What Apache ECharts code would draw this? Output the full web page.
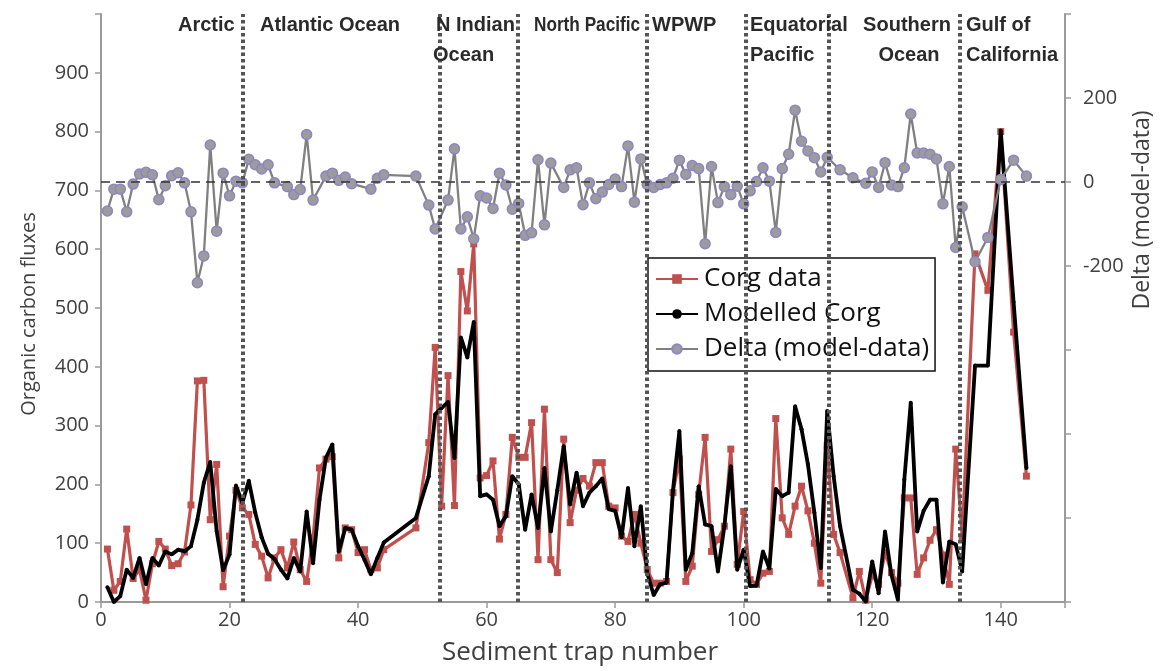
<!DOCTYPE html>
<html>
<head>
<meta charset="utf-8">
<script src="https://cdn.jsdelivr.net/npm/echarts@6/dist/echarts.min.js"></script>
<style>html,body{margin:0;background:#fff}#main{width:1162px;height:671px}</style>
</head>
<body>
<div id="main"></div>
<script>
// sediment trap numbers that carry a Corg value (data and model)
const trapNo = [
  1, 2, 3, 4, 5, 6, 7, 8, 9, 10, 11, 12, 13, 14, 15, 16, 17, 18, 19, 20,
  21, 22, 23, 24, 25, 26, 27, 28, 29, 30, 31, 32, 33, 34, 35, 36, 37, 38, 39, 40,
  41, 42, 43, 44, 49,
  51, 52, 53, 54, 55, 56, 57, 58, 59, 60, 61, 62, 63, 64, 65, 66, 67, 68, 69, 70,
  71, 72, 73, 74, 75, 76, 77, 78, 79, 80, 81, 82, 83, 84, 85, 86, 87, 88, 89, 90,
  91, 92, 93, 94, 95, 96, 97, 98, 99, 100, 101, 102, 103, 104, 105, 106, 107, 108, 109, 110,
  111, 112, 113, 114, 115, 117, 118, 119, 120, 121, 122, 123, 124, 125, 126, 127, 128, 129, 130,
  131, 132, 133, 134, 136, 138, 140, 142, 144
];
const corgData = [
  90, 20, 35, 124, 40, 55, 3, 65, 103, 90, 62, 65, 85, 165, 376, 377, 140, 234, 26, 112,
  190, 160, 149, 98, 78, 41, 75, 89, 58, 102, 55, 35, 109, 228, 243, 247, 75, 126, 123, 84,
  89, 55, 58, 89, 126,
  271, 433, 163, 385, 164, 562, 495, 609, 211, 215, 240, 107, 149, 280, 246, 246, 305, 72, 328, 72,
  50, 277, 135, 190, 210, 197, 237, 237, 163, 160, 112, 103, 149, 100, 55, 32, 32, 35, 186, 243,
  35, 61, 183, 280, 86, 106, 129, 260, 64, 154, 38, 30, 49, 52, 312, 143, 115, 163, 197, 155,
  100, 32, 266, 115, 84, 7, 52, 3, 45, 30, 84, 50, 32, 177, 177, 47, 75, 105, 123,
  80, 30, 260, 111, 592, 530, 800, 459, 214
];
const corgModel = [
  25, 0, 10, 55, 41, 75, 30, 75, 62, 86, 81, 89, 86, 95, 140, 203, 238, 120, 54, 81,
  198, 169, 206, 152, 110, 82, 73, 55, 40, 75, 52, 154, 66, 174, 245, 268, 86, 126, 123, 95,
  72, 47, 75, 101, 143,
  214, 319, 330, 340, 245, 450, 416, 476, 180, 183, 174, 129, 146, 214, 200, 123, 183, 126, 228, 120,
  190, 265, 166, 220, 163, 186, 197, 210, 158, 155, 110, 194, 95, 163, 49, 12, 30, 33, 190, 291,
  55, 83, 197, 132, 129, 52, 129, 231, 55, 89, 27, 28, 86, 57, 192, 180, 186, 333, 294, 234,
  152, 58, 325, 214, 129, 21, 14, 1, 69, 15, 120, 46, 4, 208, 339, 120, 155, 174, 174,
  33, 103, 98, 52, 402, 402, 802, 510, 228
];
// delta (model - data), right axis
const deltaTrap = [
  1, 2, 3, 4, 5, 6, 7, 8, 9, 10, 11, 12, 13, 14, 15, 16, 17, 18, 19, 20,
  21, 22, 23, 24, 25, 26, 27, 29, 30, 31, 32, 33, 35, 36, 37, 38, 39, 42, 43, 44,
  49, 51, 52, 54, 55, 56, 57, 58, 59, 60, 61, 62, 63, 64, 65, 66, 67, 68, 69, 70,
  72, 73, 74, 75, 76, 77, 78, 79, 80, 81, 82, 83, 84, 85, 86, 87, 88, 89, 90, 91,
  92, 93, 94, 95, 96, 97, 98, 99, 100, 101, 102, 103, 104, 105, 106, 107, 108, 109, 110, 111,
  112, 113, 115, 117, 119, 120, 121, 122, 123, 124, 125, 126, 127, 128, 129, 130, 131, 132, 133, 134,
  136, 138, 140, 142, 144
];
const deltaVal = [
  -69, -17, -17, -71, -5, 19, 23, 17, -42, -9, 15, 22, -2, -71, -240, -176, 88, -117, 21, -33,
  2, -2, 54, 41, 31, 41, -2, -11, -30, -18, 113, -43, 14, 21, 4, 12, -4, -17, 9, 17,
  14, -55, -112, -43, 79, -112, -83, -135, -33, -38, -63, 21, -7, -65, -51, -127, -121, 53, -102, 45,
  -13, 29, 34, -54, -2, -40, -24, -6, 7, -11, 86, -48, 55, -6, -13, -6, -2, 9, 52, 18,
  39, 32, -147, 37, -49, -11, -30, -10, -52, -21, 1, 34, 2, -120, 32, 66, 171, 97, 74, 58,
  24, 59, 29, 10, -3, 24, -13, 46, -7, -11, 34, 162, 69, 69, 66, 55, -52, 37, -156, -59,
  -190, -132, 6, 52, 14
];
// region boundaries (trap number)
const boundaries = [22, 52.7, 64.8, 84.9, 100.3, 113.3, 133.6];
// region names, one entry per text line: [text, x, y, align, horizontal squeeze]
const regionLines = [
  ['Arctic', 178, 25, 'left', 1],
  ['Atlantic Ocean', 260, 25, 'left', 1],
  ['N Indian', 436, 25, 'left', 1],
  ['Ocean', 433, 55, 'left', 1],
  ['North Pacific', 534, 25, 'left', 0.86],
  ['WPWP', 652, 25, 'left', 1],
  ['Equatorial', 750, 25, 'left', 1],
  ['Pacific', 750, 55, 'left', 1],
  ['Southern', 907, 25, 'center', 1],
  ['Ocean', 909, 55, 'center', 1],
  ['Gulf of', 966, 25, 'left', 1],
  ['California', 966, 55, 'left', 1]
];

const pairs = (xs, ys) => xs.map((x, i) => [x, ys[i]]);
const FONT = 'Open Sans';
const AXIS_GREY = '#9a9a9a';

const chart = echarts.init(document.getElementById('main'));

const option = {
  animation: false,
  grid: { left: 101, right: 97, top: 14, bottom: 69 },
  legend: {
    orient: 'vertical',
    left: 648, top: 258,
    padding: [8, 6, 9, 7],
    itemGap: 9,
    itemWidth: 42, itemHeight: 12,
    backgroundColor: '#fff',
    borderColor: '#111', borderWidth: 1.5, borderRadius: 0,
    textStyle: { fontFamily: FONT, fontSize: 26, color: '#111', padding: [0, 0, 0, 1] },
    data: ['Corg data', 'Modelled Corg', 'Delta (model-data)']
  },
  xAxis: {
    type: 'value', min: 0, max: 150, interval: 20,
    axisLine: { lineStyle: { color: AXIS_GREY, width: 2 } },
    axisTick: { lineStyle: { color: AXIS_GREY, width: 1.5 }, length: 6 },
    axisLabel: {
      fontFamily: FONT, fontSize: 20, color: '#404040', margin: 8,
      formatter: v => (v > 140 ? '' : v)
    },
    splitLine: { show: false }
  },
  yAxis: [
    {
      type: 'value', min: 0, max: 1000, interval: 100,
      axisLine: { show: true, lineStyle: { color: AXIS_GREY, width: 2 } },
      axisTick: { show: true, lineStyle: { color: AXIS_GREY, width: 1.5 }, length: 6 },
      axisLabel: {
        fontFamily: FONT, fontSize: 20, color: '#404040', margin: 12,
        formatter: v => (v >= 1000 ? '' : v)
      },
      splitLine: { show: false }
    },
    {
      type: 'value', min: -1000, max: 400, interval: 200,
      axisLine: { show: true, lineStyle: { color: AXIS_GREY, width: 2 } },
      axisTick: { show: true, lineStyle: { color: AXIS_GREY, width: 1.5 }, length: 6 },
      axisLabel: {
        fontFamily: FONT, fontSize: 20, color: '#404040', margin: 18,
        formatter: v => (v >= -200 && v <= 200 ? v : '')
      },
      splitLine: { show: false }
    }
  ],
  graphic: [
    {
      type: 'text', x: 29, y: 314, rotation: Math.PI / 2,
      style: { text: 'Organic carbon fluxes', fontFamily: FONT, fontSize: 20, fill: '#404040', align: 'center', verticalAlign: 'middle' }
    },
    {
      type: 'text', x: 580, y: 653,
      style: { text: 'Sediment trap number', fontFamily: FONT, fontSize: 26, fill: '#404040', align: 'center', verticalAlign: 'middle' }
    },
    {
      type: 'text', x: 1142, y: 210, rotation: Math.PI / 2,
      style: { text: 'Delta (model-data)', fontFamily: FONT, fontSize: 23, fill: '#404040', align: 'center', verticalAlign: 'middle' }
    }
  ].concat(regionLines.map(l => ({
    type: 'text', x: l[1], y: l[2], z: 50, scaleX: l[4],
    style: {
      text: l[0], fontFamily: 'Liberation Sans', fontSize: 20, fontWeight: 'bold',
      fill: '#2a2a2a', align: l[3], verticalAlign: 'middle'
    }
  }))),
  series: [
    {
      name: 'bounds', type: 'line', data: [], z: 1,
      markLine: {
        silent: true, symbol: 'none', label: { show: false },
        lineStyle: { color: '#555', width: 4, type: [3.5, 3] },
        data: boundaries.map(b => ({ xAxis: b }))
      }
    },
    {
      name: 'Corg data', type: 'line', z: 2,
      data: pairs(trapNo, corgData),
      symbol: 'rect', symbolSize: 7,
      lineStyle: { color: '#c0504d', width: 3.2 },
      itemStyle: { color: '#c0504d' }
    },
    {
      name: 'Modelled Corg', type: 'line', z: 3,
      data: pairs(trapNo, corgModel),
      symbol: 'circle', symbolSize: 4,
      lineStyle: { color: '#000', width: 3.8 },
      itemStyle: { color: '#000' }
    },
    {
      name: 'Delta (model-data)', type: 'line', z: 4, yAxisIndex: 1,
      data: pairs(deltaTrap, deltaVal),
      symbol: 'circle', symbolSize: 10,
      lineStyle: { color: '#808080', width: 2.3 },
      itemStyle: { color: '#9c9c9c', borderColor: '#8e84c6', borderWidth: 1.5 },
      markLine: {
        silent: true, symbol: 'none', label: { show: false },
        lineStyle: { color: '#333', width: 1.5, type: [9, 6] },
        data: [{ yAxis: 0 }]
      }
    }
  ]
};

chart.setOption(option);
</script>
</body>
</html>
